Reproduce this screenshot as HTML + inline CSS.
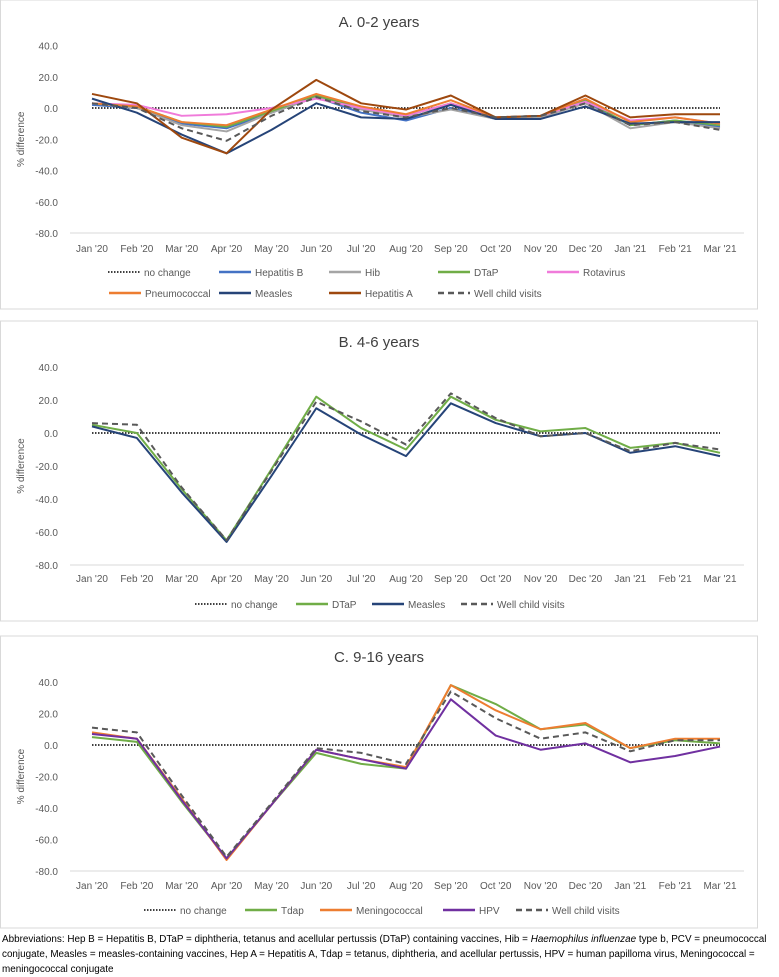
<!DOCTYPE html>
<html><head><meta charset="utf-8"><style>
body{margin:0;background:#fff;width:779px;height:973px;overflow:hidden;font-family:"Liberation Sans",sans-serif}
svg{display:block}
</style></head><body>
<svg id="s" width="779" height="973"></svg>
<script>
const months=["Jan '20","Feb '20","Mar '20","Apr '20","May '20","Jun '20","Jul '20","Aug '20","Sep '20","Oct '20","Nov '20","Dec '20","Jan '21","Feb '21","Mar '21"];
const yTicks=[40,20,0,-20,-40,-60,-80];
// Chart A
const aHepB=[2,0,-10,-13,-3,7,-3,-8,0,-7,-6,4,-11,-8,-12];
const aHib=[3,0,-11,-15,-3,7,-1,-6,-1,-7,-6,3,-13,-9,-13];
const aDTaP=[3,1,-9,-12,-2,8,0,-5,3,-6,-5,5,-11,-8,-11];
const aRota=[3,2,-5,-4,0,6,0,-5,3,-6,-5,4,-8,-6,-10];
const aPneumo=[3,1,-9,-11,-1,9,1,-4,5,-6,-5,6,-9,-6,-10];
const aMeasles=[6,-3,-17,-29,-14,3,-6,-7,2,-7,-7,1,-10,-9,-9];
const aHepA=[9,3,-19,-29,-1,18,3,-1,8,-6,-5,8,-6,-4,-4];
const aWell=[3,0,-13,-21,-5,7,-2,-6,0,-6,-5,3,-11,-9,-14];
// Chart B
const bDTaP=[5,0,-34,-65,-22,22,3,-10,22,8,1,3,-9,-6,-12];
const bMeasles=[4,-3,-36,-66,-26,15,-1,-14,18,6,-2,0,-12,-8,-14];
const bWell=[6,5,-33,-65,-23,19,7,-7,24,9,-2,0,-11,-6,-10];
// Chart C
const cTdap=[5,2,-36,-72,-38,-5,-12,-15,38,26,10,13,-2,3,1];
const cMening=[8,4,-34,-73,-38,-3,-9,-14,38,22,10,14,-2,4,4];
const cHPV=[7,4,-35,-72,-38,-3,-9,-15,29,6,-3,1,-11,-7,-1];
const cWell=[11,8,-32,-71,-37,-2,-5,-12,34,17,4,8,-4,3,3];

const NS="http://www.w3.org/2000/svg";
const svg=document.getElementById('s');
function mk(tag,attrs,parent,txt){const e=document.createElementNS(NS,tag);for(const k in attrs)e.setAttribute(k,attrs[k]);if(txt!==undefined)e.textContent=txt;(parent||svg).appendChild(e);return e;}
function chart(cfg){
 const g=mk('g',{});
 
 
 const box=mk('rect',{x:0.5,y:cfg.boxTop,width:757,height:cfg.boxBot-cfg.boxTop,fill:"#fff",stroke:"#d9d9d9"},g);
 
 const t=mk('text',{x:379,y:cfg.titleY,'text-anchor':'middle','font-size':15,fill:"#404040"},g,cfg.title);
 
 const x0=92,x1=720;
 const xs=i=>x0+(x1-x0)*i/(months.length-1);
 const ys=v=>cfg.y0+(v/-80)*(cfg.y80-cfg.y0);
 yTicks.forEach(v=>{const e=mk('text',{x:58,y:ys(v)+4,'text-anchor':'end','font-size':10,fill:"#595959"},g,v.toFixed(1));
  });
 const ax=mk('line',{x1:70,x2:744,y1:ys(-80),y2:ys(-80),stroke:"#d9d9d9"},g);
 
 months.forEach((m,i)=>{const e=mk('text',{x:xs(i),y:cfg.xLabY,'text-anchor':'middle','font-size':10,fill:"#595959"},g,m);
  });
 const yt=mk('text',{x:0,y:0,'text-anchor':'middle','font-size':10,fill:"#595959",transform:`translate(24,${ys(-20)}) rotate(-90)`},g,'% difference');
 
 const nc=mk('line',{x1:xs(0),x2:xs(months.length-1),y1:ys(0),y2:ys(0),stroke:"#000",'stroke-width':1.6,'stroke-dasharray':"1.5 1.5"},g);
 
 cfg.series.forEach(s=>{
  const p=mk('polyline',{points:s.data.map((v,i)=>xs(i)+','+ys(v)).join(' '),fill:'none',stroke:s.c,'stroke-width':s.w||2,'stroke-dasharray':s.d||'none','stroke-linejoin':'round'},g);
  
 });
 cfg.legend.forEach(l=>{
  const lg=mk('g',{},g);
  
  mk('line',{x1:l.x,x2:l.x+32,y1:l.y-3,y2:l.y-3,stroke:l.c,'stroke-width':l.w||2.4,'stroke-dasharray':l.d||'none'},lg);
  mk('text',{x:l.x+36,y:l.y+1,'font-size':10,fill:"#595959"},lg,l.label);
 });
}
const C={hepb:"#4472C4",hib:"#A5A5A5",dtap:"#70AD47",rota:"#F07BDA",pneumo:"#ED7D31",measles:"#264478",hepa:"#9E480E",well:"#595959",hpv:"#7030A0"};
chart({name:'chart-a-0-2-years',title:'A. 0-2 years',boxTop:0,boxBot:309,titleY:27,y0:108,y80:233,xLabY:252,
 series:[
  {key:'hepatitis-b',data:aHepB,c:C.hepb},{key:'hib',data:aHib,c:C.hib},{key:'dtap',data:aDTaP,c:C.dtap},
  {key:'rotavirus',data:aRota,c:C.rota},{key:'pneumococcal',data:aPneumo,c:C.pneumo},
  {key:'measles',data:aMeasles,c:C.measles},{key:'hepatitis-a',data:aHepA,c:C.hepa},
  {key:'well-child-visits',data:aWell,c:C.well,d:"6 4"}],
 legend:[
  {x:108,y:275,c:"#000",w:1.6,d:"1.5 1.5",label:'no change'},{x:219,y:275,c:C.hepb,label:'Hepatitis B'},
  {x:329,y:275,c:C.hib,label:'Hib'},{x:438,y:275,c:C.dtap,label:'DTaP'},{x:547,y:275,c:C.rota,label:'Rotavirus'},
  {x:109,y:296,c:C.pneumo,label:'Pneumococcal'},{x:219,y:296,c:C.measles,label:'Measles'},
  {x:329,y:296,c:C.hepa,label:'Hepatitis A'},{x:438,y:296,c:C.well,d:"6 4",label:'Well child visits'}]
});
chart({name:'chart-b-4-6-years',title:'B. 4-6 years',boxTop:321,boxBot:621,titleY:347,y0:433,y80:565,xLabY:582,
 series:[{key:'dtap',data:bDTaP,c:C.dtap},{key:'measles',data:bMeasles,c:C.measles},{key:'well-child-visits',data:bWell,c:C.well,d:"6 4"}],
 legend:[{x:195,y:607,c:"#000",w:1.6,d:"1.5 1.5",label:'no change'},{x:296,y:607,c:C.dtap,label:'DTaP'},
  {x:372,y:607,c:C.measles,label:'Measles'},{x:461,y:607,c:C.well,d:"6 4",label:'Well child visits'}]
});
chart({name:'chart-c-9-16-years',title:'C. 9-16 years',boxTop:636,boxBot:928,titleY:662,y0:745,y80:871,xLabY:889,
 series:[{key:'tdap',data:cTdap,c:C.dtap},{key:'meningococcal',data:cMening,c:C.pneumo},{key:'hpv',data:cHPV,c:C.hpv},{key:'well-child-visits',data:cWell,c:C.well,d:"6 4"}],
 legend:[{x:144,y:913,c:"#000",w:1.6,d:"1.5 1.5",label:'no change'},{x:245,y:913,c:C.dtap,label:'Tdap'},
  {x:320,y:913,c:C.pneumo,label:'Meningococcal'},{x:443,y:913,c:C.hpv,label:'HPV'},{x:516,y:913,c:C.well,d:"6 4",label:'Well child visits'}]
});
</script>
<div style="position:absolute;left:2px;top:932px;width:777px;font-size:9.9px;line-height:15px;color:#000;white-space:nowrap">Abbreviations: Hep B = Hepatitis B, DTaP = diphtheria, tetanus and acellular pertussis (DTaP) containing vaccines, Hib = <i>Haemophilus influenzae</i> type b, PCV = pneumococcal<br>conjugate, Measles = measles-containing vaccines, Hep A = Hepatitis A, Tdap = tetanus, diphtheria, and acellular pertussis, HPV = human papilloma virus, Meningococcal =<br>meningococcal conjugate</div>
</body></html>
